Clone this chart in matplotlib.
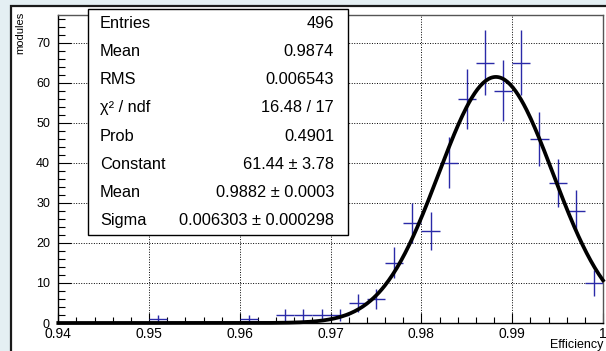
import numpy as np
import matplotlib.pyplot as plt
from matplotlib.patches import Rectangle
from matplotlib.ticker import MultipleLocator

plt.rcParams['font.family'] = ['Liberation Sans', 'DejaVu Sans']

# histogram bins (centres) and counts
bin_centers = [0.951, 0.961, 0.965, 0.967, 0.969, 0.971, 0.973, 0.975, 0.977, 0.979,
               0.981, 0.983, 0.985, 0.987, 0.989, 0.991, 0.993, 0.995, 0.997, 0.999]
counts = [1, 1, 2, 2, 2, 2, 5, 6, 15, 25,
          23, 40, 56, 65, 58, 65, 46, 35, 28, 10]
bin_width = 0.002

# gaussian fit parameters shown in the stats box
fit_const = 61.44
fit_mean = 0.9882
fit_sigma = 0.006303

x_ticks = [0.94, 0.95, 0.96, 0.97, 0.98, 0.99, 1.0]
x_tick_labels = ['0.94', '0.95', '0.96', '0.97', '0.98', '0.99', '1']

stat_labels = ['Entries', 'Mean', 'RMS', 'χ² / ndf', 'Prob',
               'Constant', 'Mean', 'Sigma']
stat_values = ['496', '0.9874', '0.006543', '16.48 / 17', '0.4901',
               '61.44 ± 3.78', '0.9882 ± 0.0003', '0.006303 ± 0.000298']

W, H = 606, 351
fig = plt.figure(figsize=(W / 100, H / 100), dpi=100)
fig.patch.set_facecolor('#e4eff3')

# white canvas with dark border
fig.patches.append(Rectangle((11 / W, -0.1), 1.2, 1 - 6 / H + 0.1,
                             transform=fig.transFigure, facecolor='white',
                             edgecolor='#1a1a1a', linewidth=1.6, zorder=-1))

x0, x1 = 58.3, 603
y0, y1 = 15, 323
ax = fig.add_axes([x0 / W, 1 - y1 / H, (x1 - x0) / W, (y1 - y0) / H])
ax.set_facecolor('white')

xc = np.array(bin_centers)
yc = np.array(counts, dtype=float)
ax.errorbar(xc, yc, xerr=bin_width / 2, yerr=np.sqrt(yc), fmt='none',
            ecolor='#2a2aa8', elinewidth=1.0, capsize=0, zorder=3)

xf = np.linspace(0.94, 1.0, 400)
yf = fit_const * np.exp(-0.5 * ((xf - fit_mean) / fit_sigma) ** 2)
ax.plot(xf, yf, color='black', linewidth=2.7, zorder=4, clip_on=False)

ax.set_xticks(x_ticks)
ax.set_xticklabels(x_tick_labels)
ax.xaxis.set_minor_locator(MultipleLocator(0.002))
ax.yaxis.set_major_locator(MultipleLocator(10))
ax.yaxis.set_minor_locator(MultipleLocator(2))
ax.set_xlim(0.94, 1.0)
ax.set_ylim(0, 76.9)

ax.tick_params(axis='x', which='major', direction='in', length=7, width=0.8,
               labelsize=10, pad=3, top=False)
ax.tick_params(axis='x', which='minor', direction='in', length=4, width=0.8, top=False)
ax.tick_params(axis='y', which='major', direction='in', length=9, width=0.8,
               labelsize=9, pad=6, right=False)
ax.tick_params(axis='y', which='minor', direction='in', length=5, width=0.8, right=False)

ax.grid(True, which='major', color='black', linestyle=(0, (1, 1.6)), linewidth=0.7)
ax.set_axisbelow(True)

for side in ['left', 'bottom']:
    ax.spines[side].set_color('black')
    ax.spines[side].set_linewidth(1.0)
for side in ['top', 'right']:
    ax.spines[side].set_color('#555555')
    ax.spines[side].set_linewidth(1.0)

fig.text(x1 / W, 1 - 345 / H, 'Efficiency', ha='right', va='center', fontsize=9)
fig.text(20 / W, 1 - 12 / H, 'modules', ha='center', va='top', rotation=90, fontsize=8)

# stats box
bx0, bx1, by0, by1 = 88, 348, 9, 235
fig.patches.append(Rectangle((bx0 / W, 1 - by1 / H), (bx1 - bx0) / W, (by1 - by0) / H,
                             transform=fig.transFigure, facecolor='white',
                             edgecolor='black', linewidth=1.0, zorder=5))
row_h = (by1 - by0) / len(stat_labels)
for i, (lab, val) in enumerate(zip(stat_labels, stat_values)):
    yy = 1 - (by0 + row_h * (i + 0.5)) / H
    fig.text(100 / W, yy, lab, ha='left', va='center', fontsize=11.8, zorder=6)
    fig.text(334 / W, yy, val, ha='right', va='center', fontsize=11.8, zorder=6)

fig.savefig('out.png', dpi=100)
